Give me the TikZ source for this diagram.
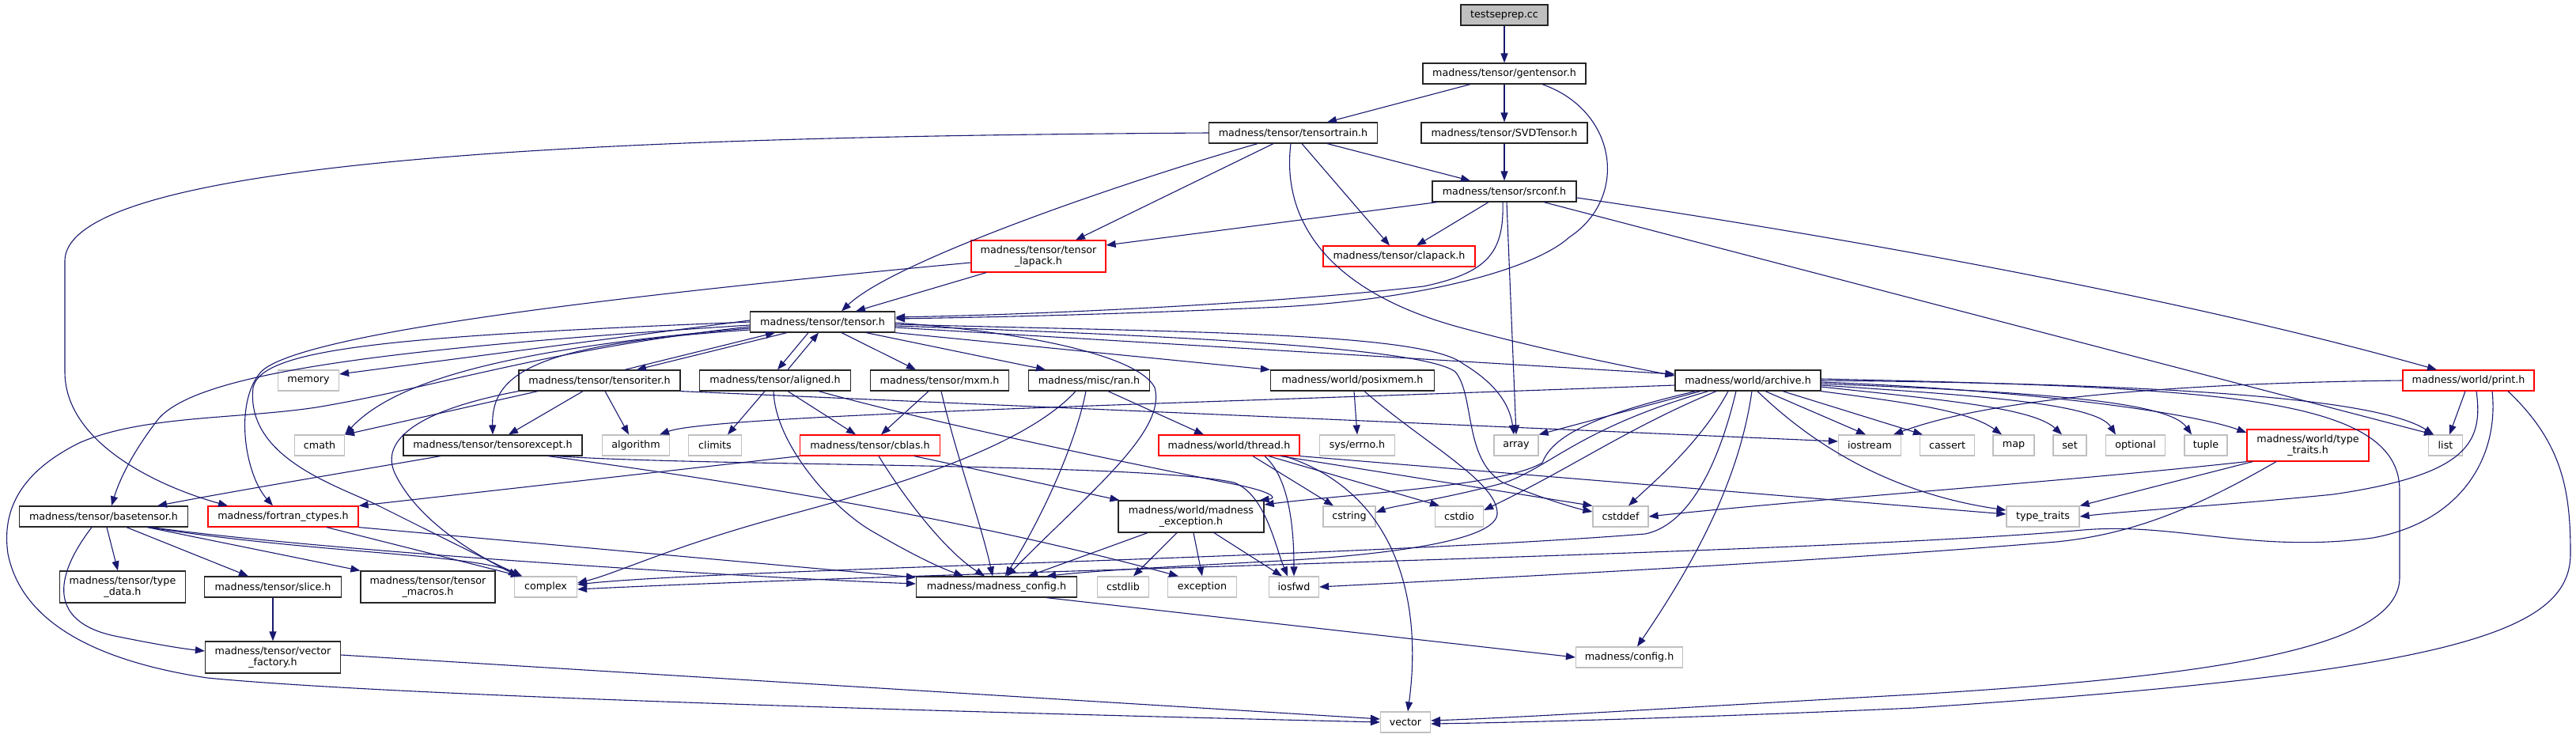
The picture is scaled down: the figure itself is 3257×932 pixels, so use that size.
\documentclass[tikz,border=0pt]{standalone}
\usepackage{fontspec}
\setmainfont{DejaVu Sans}
\usetikzlibrary{arrows.meta}
\definecolor{edgec}{HTML}{191970}
\definecolor{grayb}{HTML}{C0C0C0}
\definecolor{rootf}{HTML}{BFBFBF}
\begin{document}
\begin{tikzpicture}[x=1pt,y=-1pt,
  nb/.style={draw=black!85,line width=1.2pt,fill=white,inner sep=0pt,align=center,font=\fontsize{12.7pt}{14.5pt}\selectfont,minimum height=26pt},
  rb/.style={nb,draw=red},
  gb/.style={nb,draw=grayb},
  rootb/.style={nb,fill=rootf},
  tall/.style={minimum height=40pt},
  e/.style={draw=edgec,line width=1.1pt,-{Triangle[length=12pt,width=9pt]}},
]
\useasboundingbox (0,0) rectangle (3257,932);
% nodes
\node[rootb,minimum width=110pt] (root) at (1902,19) {testseprep.cc};
\node[nb,minimum width=206pt] (gentensor) at (1902,93) {madness/tensor/gentensor.h};
\node[nb,minimum width=213pt] (tensortrain) at (1635,168) {madness/tensor/tensortrain.h};
\node[nb,minimum width=210pt] (svd) at (1902,168) {madness/tensor/SVDTensor.h};
\node[nb,minimum width=182pt] (srconf) at (1902,242) {madness/tensor/srconf.h};
\node[rb,minimum width=192pt] (clapack) at (1769,324) {madness/tensor/clapack.h};
\node[rb,tall,minimum width=170pt] (tlapack) at (1313,324) {madness/tensor/tensor\\\_lapack.h};
\node[nb,minimum width=183pt] (tensor) at (1040,407) {madness/tensor/tensor.h};
\node[gb,minimum width=77pt] (memory) at (390,481) {memory};
\node[nb,minimum width=204pt] (tensoriter) at (758,481) {madness/tensor/tensoriter.h};
\node[nb,minimum width=191pt] (aligned) at (980,481) {madness/tensor/aligned.h};
\node[nb,minimum width=175pt] (mxm) at (1188,481) {madness/tensor/mxm.h};
\node[nb,minimum width=153pt] (ran) at (1377,481) {madness/misc/ran.h};
\node[nb,minimum width=207pt] (posixmem) at (1710,481) {madness/world/posixmem.h};
\node[nb,minimum width=184pt] (archive) at (2210,481) {madness/world/archive.h};
\node[rb,minimum width=166pt] (print) at (3121,481) {madness/world/print.h};
\node[gb,minimum width=63pt] (cmath) at (404,563) {cmath};
\node[nb,minimum width=226pt] (texcept) at (623,563) {madness/tensor/tensorexcept.h};
\node[gb,minimum width=85pt] (algorithm) at (804,563) {algorithm};
\node[gb,minimum width=67pt] (climits) at (904,563) {climits};
\node[rb,minimum width=177pt] (cblas) at (1100,563) {madness/tensor/cblas.h};
\node[rb,minimum width=178pt] (thread) at (1554,563) {madness/world/thread.h};
\node[gb,minimum width=95pt] (errno) at (1716,563) {sys/errno.h};
\node[gb,minimum width=56pt] (array) at (1917,563) {array};
\node[gb,minimum width=79pt] (iostream) at (2364,563) {iostream};
\node[gb,minimum width=69pt] (cassert) at (2462,563) {cassert};
\node[gb,minimum width=52pt] (map) at (2546,563) {map};
\node[gb,minimum width=42pt] (set) at (2617,563) {set};
\node[gb,minimum width=75pt] (optional) at (2700,563) {optional};
\node[gb,minimum width=54pt] (tuple) at (2789,563) {tuple};
\node[rb,tall,minimum width=154pt] (wtt) at (2918,563) {madness/world/type\\\_traits.h};
\node[gb,minimum width=43pt] (list) at (3092,563) {list};
\node[nb,minimum width=213pt] (basetensor) at (131,653) {madness/tensor/basetensor.h};
\node[rb,minimum width=190pt] (fortran) at (358,653) {madness/fortran\_ctypes.h};
\node[nb,tall,minimum width=184pt] (madexc) at (1506,653) {madness/world/madness\\\_exception.h};
\node[gb,minimum width=66pt] (cstring) at (1706,653) {cstring};
\node[gb,minimum width=61pt] (cstdio) at (1845,653) {cstdio};
\node[gb,minimum width=70pt] (cstddef) at (2049,653) {cstddef};
\node[gb,minimum width=92pt] (typetraits) at (2583,653) {type\_traits};
\node[nb,tall,minimum width=159pt] (typedata) at (155,742) {madness/tensor/type\\\_data.h};
\node[nb,minimum width=173pt] (slice) at (345,742) {madness/tensor/slice.h};
\node[nb,tall,minimum width=170pt] (tmacros) at (541,742) {madness/tensor/tensor\\\_macros.h};
\node[gb,minimum width=79pt] (complex) at (690,742) {complex};
\node[nb,minimum width=203pt] (madconfig) at (1260,742) {madness/madness\_config.h};
\node[gb,minimum width=65pt] (cstdlib) at (1420,742) {cstdlib};
\node[gb,minimum width=87pt] (exception) at (1520,742) {exception};
\node[gb,minimum width=63pt] (iosfwd) at (1636,742) {iosfwd};
\node[gb,minimum width=135pt] (config) at (2060,831) {madness/config.h};
\node[nb,tall,minimum width=171pt] (vfactory) at (345,831) {madness/tensor/vector\\\_factory.h};
\node[gb,minimum width=63pt] (vector) at (1777,913) {vector};
% top
\draw[e] (root) -- (gentensor);
\draw[e] ([xshift=-43pt]gentensor.south) -- ([xshift=43pt]tensortrain.north);
\draw[e] (gentensor) -- (svd);
\draw[e] ([xshift=48pt]gentensor.south) .. controls (2045,140) and (2060,250) .. (1984,300) .. controls (1940,340) and (1800,378) .. (1620,388) .. controls (1400,398) and (1250,401) .. ([yshift=4pt]tensor.east);
% tensortrain
\draw[e] (tensortrain.west) .. controls (900,172) and (82,190) .. (82,330) -- (82,470) .. controls (82,560) and (200,615) .. ([xshift=-70pt]fortran.north);
\draw[e] ([xshift=-25pt]tensortrain.south) -- ([xshift=47pt]tlapack.north);
\draw[e] ([xshift=-45pt]tensortrain.south) .. controls (1420,230) and (1130,330) .. ([xshift=24pt]tensor.north);
\draw[e] ([xshift=43pt]tensortrain.south) -- ([xshift=-43pt]srconf.north);
\draw[e] ([xshift=11pt]tensortrain.south) -- ([xshift=-12pt]clapack.north);
\draw[e] ([xshift=-3pt]tensortrain.south) .. controls (1620,280) and (1680,370) .. (1850,415) .. controls (1950,442) and (2050,462) .. ([yshift=6pt]archive.west);
% svd, srconf
\draw[e] (svd) -- (srconf);
\draw[e] ([xshift=-85pt]srconf.south) -- ([yshift=14pt]tlapack.east);
\draw[e] ([xshift=-20pt]srconf.south) -- ([xshift=22pt]clapack.north);
\draw[e] ([xshift=-2pt]srconf.south) .. controls (1902,320) and (1880,345) .. (1800,362) .. controls (1600,385) and (1300,398) .. ([yshift=6pt]tensor.east);
\draw[e] ([xshift=3pt]srconf.south) -- (array.north);
\draw[e] ([yshift=-8pt]srconf.east) .. controls (2200,280) and (2700,360) .. ([xshift=-40pt]print.north);
\draw[e] ([xshift=50pt]srconf.south) -- ([xshift=-15pt]list.north);
% tensor_lapack
\draw[e] ([xshift=-66pt]tlapack.south) -- ([xshift=42pt]tensor.north);
\draw[e] ([yshift=-8pt]tlapack.west) .. controls (800,372) and (380,420) .. (330,470) .. controls (295,510) and (310,600) .. ([xshift=-13pt]fortran.north);
% tensor
\draw[e] ([xshift=-45pt]tensor.south) -- ([xshift=47pt]tensoriter.north);
\draw[e] ([xshift=32pt]tensoriter.north) -- ([xshift=-60pt]tensor.south);
\draw[e] ([xshift=-18pt]tensor.south) -- ([xshift=3pt]aligned.north);
\draw[e] ([xshift=16pt]aligned.north) -- ([xshift=-5pt]tensor.south);
\draw[e] ([xshift=24pt]tensor.south) -- ([xshift=-30pt]mxm.north);
\draw[e] ([xshift=55pt]tensor.south) -- ([xshift=-55pt]ran.north);
\draw[e] (tensor.south east) -- (posixmem.north west);
\draw[e] ([yshift=-7pt]tensor.east) -- ([yshift=8pt]archive.west);
\draw[e] ([yshift=-3pt]tensor.east) .. controls (1500,420) and (1800,420) .. (1850,460) .. controls (1900,490) and (1910,520) .. ([xshift=-3pt]array.north);
\draw[e] ([yshift=-5pt]tensor.east) .. controls (1500,425) and (1800,440) .. (1840,470) .. controls (1865,500) and (1850,580) .. (1900,610) .. controls (1950,630) and (1990,642) .. ([yshift=6pt]cstddef.west);
\draw[e] ([yshift=-1pt]tensor.east) .. controls (1300,420) and (1440,450) .. (1460,490) .. controls (1475,545) and (1380,620) .. ([xshift=13pt]madconfig.north);
\draw[e] ([yshift=2pt]tensor.west) -- ([yshift=8pt]memory.east);
\draw[e] ([yshift=-8pt]tensor.west) .. controls (650,440) and (500,480) .. (cmath.north east);
\draw[e] ([yshift=-10pt]tensor.west) .. controls (680,435) and (621,470) .. (texcept.north);
\draw[e] ([yshift=-4pt]tensor.west) .. controls (500,440) and (250,470) .. (200,530) .. controls (165,575) and (150,610) .. ([xshift=10pt]basetensor.north);
\draw[e] (tensor.west) .. controls (500,425) and (330,440) .. (320,490) .. controls (310,580) and (430,615) .. (480,640) .. controls (560,680) and (620,710) .. ([xshift=-30pt]complex.north);
\draw[e] ([yshift=-6pt]tensor.west) .. controls (700,440) and (550,490) .. (400,515) .. controls (300,530) and (180,525) .. (100,560) .. controls (20,600) and (3,650) .. (10,700) .. controls (30,800) and (150,840) .. (262,857) .. controls (500,880) and (1200,900) .. (vector.west);
% tensoriter
\draw[e] ([xshift=-78pt]tensoriter.south) -- (cmath.north east);
\draw[e] ([xshift=-21pt]tensoriter.south) -- ([xshift=20pt]texcept.north);
\draw[e] ([xshift=7pt]tensoriter.south) -- ([xshift=-9pt]algorithm.north);
\draw[e] (tensoriter.south west) .. controls (520,520) and (480,560) .. (500,600) .. controls (530,660) and (600,700) .. ([xshift=5pt]complex.north west);
\draw[e] (tensoriter.south east) -- ([yshift=5pt]iostream.west);
% aligned
\draw[e] ([xshift=-13pt]aligned.south) -- ([xshift=16pt]climits.north);
\draw[e] ([xshift=16pt]aligned.south) -- ([xshift=-18pt]cblas.north);
\draw[e] ([xshift=-2pt]aligned.south) .. controls (980,560) and (1050,640) .. (1100,670) .. controls (1160,705) and (1190,718) .. ([xshift=-42pt]madconfig.north);
\draw[e] ([xshift=55pt]aligned.south) .. controls (1200,540) and (1450,590) .. (1560,612) .. controls (1610,622) and (1615,630) .. ([xshift=-6pt]madexc.north east);
% mxm
\draw[e] ([xshift=-14pt]mxm.south) -- ([xshift=14pt]cblas.north);
\draw[e] ([xshift=2pt]mxm.south) .. controls (1210,580) and (1240,660) .. ([xshift=-5pt]madconfig.north);
% ran
\draw[e] ([xshift=24pt]ran.south) -- ([xshift=-32pt]thread.north);
\draw[e] ([xshift=-4pt]ran.south) .. controls (1360,560) and (1320,650) .. ([xshift=11pt]madconfig.north);
\draw[e] ([xshift=-17pt]ran.south) .. controls (1300,560) and (1150,610) .. (1000,650) .. controls (850,690) and (780,725) .. ([yshift=5pt]complex.east);
% posixmem
\draw[e] ([xshift=2pt]posixmem.south) -- (errno.north);
\draw[e] ([xshift=15pt]posixmem.south) .. controls (1800,560) and (1895,610) .. (1893,650) .. controls (1890,690) and (1700,705) .. (1600,710) .. controls (1450,718) and (1380,722) .. ([xshift=63pt]madconfig.north);
% cblas
\draw[e] (cblas.south west) -- (fortran.north east);
\draw[e] ([xshift=11pt]cblas.south) .. controls (1150,640) and (1200,700) .. ([xshift=-15pt]madconfig.north);
\draw[e] ([xshift=56pt]cblas.south) -- ([xshift=2pt]madexc.north west);
% thread
\draw[e] ([xshift=30pt]thread.south) -- ([xshift=-20pt]cstring.north);
\draw[e] ([xshift=50pt]thread.south) -- ([xshift=-25pt]cstdio.north);
\draw[e] ([xshift=65pt]thread.south) -- (cstddef.north west);
\draw[e] (thread.south east) -- ([yshift=3pt]typetraits.west);
\draw[e] ([xshift=70pt]thread.south) .. controls (1760,620) and (1800,750) .. ([xshift=3pt]vector.north);
\draw[e] ([xshift=45pt]thread.south) .. controls (1625,600) and (1636,650) .. (iosfwd.north);
% archive
\draw[e] ([yshift=-6pt]archive.west) .. controls (1500,510) and (900,525) .. ([xshift=30pt]algorithm.north);
\draw[e] ([xshift=-60pt]archive.south) -- (array.north east);
\draw[e] ([xshift=22pt]archive.south) -- ([xshift=-5pt]iostream.north);
\draw[e] ([xshift=44pt]archive.south) -- ([xshift=4pt]cassert.north west);
\draw[e] (archive.south east) .. controls (2420,510) and (2490,520) .. ([xshift=-15pt]map.north);
\draw[e] ([yshift=-8pt]archive.east) .. controls (2450,505) and (2570,515) .. ([xshift=-10pt]set.north);
\draw[e] ([yshift=-6pt]archive.east) .. controls (2500,500) and (2650,510) .. ([xshift=-25pt]optional.north);
\draw[e] ([yshift=-4pt]archive.east) .. controls (2550,495) and (2740,505) .. ([xshift=-18pt]tuple.north);
\draw[e] ([yshift=-2pt]archive.east) .. controls (2600,495) and (2780,525) .. ([yshift=16pt]wtt.west);
\draw[e] (archive.east) .. controls (2700,485) and (3000,500) .. ([xshift=-15pt]list.north);
\draw[e] ([yshift=2pt]archive.east) .. controls (2800,490) and (3034,500) .. (3034,620) -- (3034,730) .. controls (3034,820) and (2800,855) .. (2420,878) .. controls (2200,890) and (1950,906) .. ([yshift=2pt]vector.east);
\draw[e] ([xshift=-25pt]archive.south) .. controls (2150,560) and (2090,610) .. ([xshift=10pt]cstddef.north);
\draw[e] ([xshift=-40pt]archive.south) .. controls (2060,540) and (1990,590) .. ([yshift=8pt]cstdio.east);
\draw[e] ([xshift=-50pt]archive.south) .. controls (2000,540) and (1960,590) .. (1903,610) .. controls (1830,630) and (1760,640) .. ([yshift=5pt]cstring.east);
\draw[e] ([xshift=-66pt]archive.south) .. controls (1990,530) and (1960,560) .. (1950,585) .. controls (1900,615) and (1700,625) .. ([yshift=15pt]madexc.east);
\draw[e] ([xshift=-15pt]archive.south) .. controls (2170,600) and (2130,665) .. (2080,675) .. controls (1700,705) and (900,720) .. ([yshift=3pt]complex.east);
\draw[e] ([xshift=5pt]archive.south) .. controls (2200,600) and (2150,700) .. ([xshift=10pt]config.north);
\draw[e] ([xshift=12pt]archive.south) .. controls (2300,570) and (2400,625) .. ([yshift=8pt]typetraits.west);
% print
\draw[e] (print.west) .. controls (2700,485) and (2500,510) .. ([xshift=30pt]iostream.north);
\draw[e] ([xshift=-4pt]print.south) -- ([xshift=5pt]list.north);
\draw[e] ([xshift=10pt]print.south) .. controls (3140,560) and (3120,600) .. (2950,625) .. controls (2800,640) and (2700,645) .. (typetraits.east);
\draw[e] ([xshift=30pt]print.south) .. controls (3160,580) and (3110,660) .. (3000,680) .. controls (2850,700) and (2750,660) .. (2634,670) .. controls (2300,700) and (1200,722) .. ([yshift=-3pt]complex.east);
\draw[e] ([xshift=50pt]print.south) .. controls (3240,560) and (3250,620) .. (3250,700) .. controls (3250,800) and (3100,850) .. (2420,895) .. controls (2200,905) and (1950,913) .. ([yshift=-2pt]vector.east);
% world type_traits
\draw[e] ([xshift=-70pt]wtt.south) -- (typetraits.north east);
\draw[e] (wtt.south west) .. controls (2600,610) and (2300,630) .. (cstddef.east);
\draw[e] ([xshift=-40pt]wtt.south) .. controls (2780,640) and (2700,675) .. (2600,685) .. controls (2300,710) and (1900,730) .. (iosfwd.east);
% madness_exception
\draw[e] ([xshift=-55pt]madexc.south) -- ([xshift=40pt]madconfig.north);
\draw[e] ([xshift=-18pt]madexc.south) -- ([xshift=13pt]cstdlib.north);
\draw[e] ([xshift=3pt]madexc.south) -- (exception.north);
\draw[e] ([xshift=29pt]madexc.south) -- ([xshift=-15pt]iosfwd.north);
% tensorexcept
\draw[e] ([xshift=-66pt]texcept.south) .. controls (450,595) and (300,620) .. ([xshift=68pt]basetensor.north);
\draw[e] ([xshift=70pt]texcept.south) .. controls (900,605) and (1200,650) .. ([xshift=-30pt]exception.north);
\draw[e] ([xshift=80pt]texcept.south) .. controls (900,590) and (1450,585) .. (1560,610) .. controls (1600,625) and (1612,690) .. ([xshift=-8pt]iosfwd.north);
% basetensor
\draw[e] ([xshift=4pt]basetensor.south) -- ([xshift=-6pt]typedata.north);
\draw[e] ([xshift=29pt]basetensor.south) -- ([xshift=-31pt]slice.north);
\draw[e] ([xshift=55pt]basetensor.south) -- (tmacros.north west);
\draw[e] ([xshift=57pt]basetensor.south) .. controls (400,700) and (600,700) .. ([xshift=10pt]complex.north west);
\draw[e] ([xshift=60pt]basetensor.south) .. controls (400,695) and (900,728) .. ([yshift=4pt]madconfig.west);
\draw[e] ([xshift=-15pt]basetensor.south) .. controls (60,740) and (70,790) .. (150,805) .. controls (200,815) and (230,820) .. ([yshift=8pt]vfactory.west);
% fortran
\draw[e] ([xshift=55pt]fortran.south) -- ([xshift=8pt]complex.north west);
\draw[e] (fortran.south east) -- ([yshift=12pt]madconfig.west);
% rest
\draw[e] ([xshift=63pt]madconfig.south) -- (config.west);
\draw[e] (slice) -- (vfactory);
\draw[e] ([yshift=3pt]vfactory.east) -- ([yshift=4pt]vector.west);
\end{tikzpicture}
\end{document}
